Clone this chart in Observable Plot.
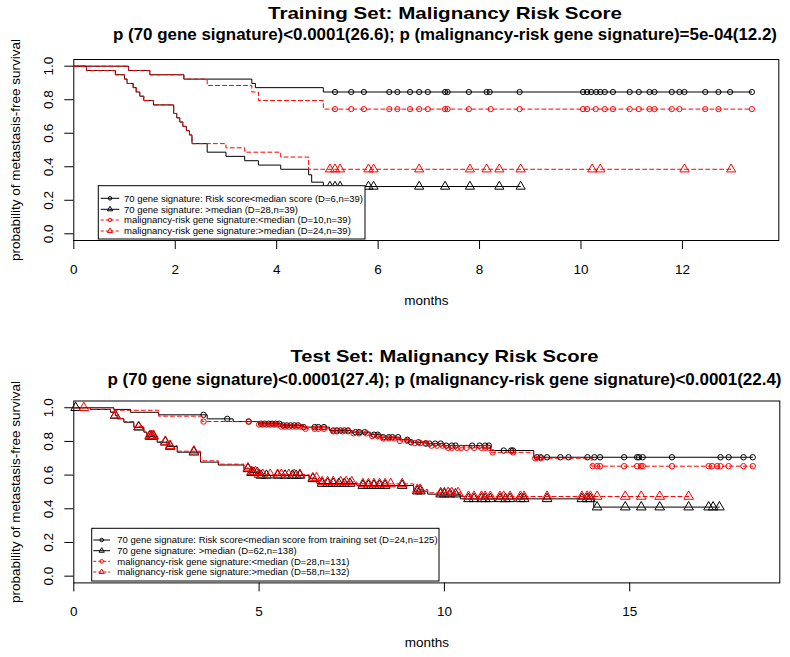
<!DOCTYPE html>
<html><head><meta charset="utf-8">
<script src="https://cdn.jsdelivr.net/npm/d3@7"></script>
<script src="https://cdn.jsdelivr.net/npm/@observablehq/plot@0.6"></script>
<style>
body{margin:0;background:#fff;overflow:hidden;}
#wrap{position:relative;width:790px;height:657px;}
#wrap svg{display:block;max-width:none;}
</style></head><body><div id="wrap"></div>
<script>
// ---------------- DATA ----------------
const yTicks = [0, 0.2, 0.4, 0.6, 0.8, 1.0];
const trainXTicks = [0, 2, 4, 6, 8, 10, 12];
const testXTicks = [0, 5, 10, 15];

const trainTitle = "Training Set: Malignancy Risk Score";
const trainSubtitle = "p (70 gene signature)<0.0001(26.6); p (malignancy-risk gene signature)=5e-04(12.2)";
const testTitle = "Test Set: Malignancy Risk Score";
const testSubtitle = "p (70 gene signature)<0.0001(27.4); p (malignancy-risk gene signature)<0.0001(22.4)";
const xLabel = "months";
const yLabel = "probability of metastasis-free survival";

const trainLegend = [
  "70 gene signature: Risk score<median score (D=6,n=39)",
  "70 gene signature: >median (D=28,n=39)",
  "malignancy-risk gene signature:<median (D=10,n=39)",
  "malignancy-risk gene signature:>median (D=24,n=39)"
];
const testLegend = [
  "70 gene signature: Risk score<median score from training set (D=24,n=125)",
  "70 gene signature: >median (D=62,n=138)",
  "malignancy-risk gene signature:<median (D=28,n=131)",
  "malignancy-risk gene signature:>median (D=58,n=132)"
];

// Training set: step points [months, survival] and censoring times (months)
const trainLowBlackSteps = [[0,1],[1.08,0.974],[1.50,0.949],[2.17,0.923],[3.51,0.897],[3.58,0.872],[4.92,0.846]];
const trainLowBlackCens = [5.15,5.47,5.72,6.22,6.38,6.63,6.81,6.98,7.32,7.37,7.79,8.14,8.2,8.79,10.04,10.12,10.2,10.3,10.38,10.47,10.63,10.96,11.14,11.35,11.45,11.79,11.94,12.04,12.45,12.71,12.94,13.37];
const trainHighBlackSteps = [[0,1],[0.25,0.974],[0.82,0.949],[1.0,0.923],[1.05,0.897],[1.17,0.872],[1.23,0.846],[1.30,0.821],[1.38,0.795],[1.57,0.769],[1.97,0.718],[2.03,0.692],[2.09,0.667],[2.15,0.641],[2.22,0.615],[2.28,0.590],[2.33,0.538],[2.63,0.487],[3.0,0.462],[3.37,0.436],[3.64,0.410],[4.08,0.385],[4.63,0.352],[4.69,0.308],[4.92,0.282]];
const trainHighBlackCens = [5.05,5.15,5.25,5.81,5.91,6.81,7.32,7.81,8.39,8.81];
const trainLowRedSteps = [[0,1],[1.08,0.974],[1.50,0.949],[2.17,0.923],[2.63,0.885],[3.51,0.846],[3.64,0.795],[4.92,0.744]];
const trainLowRedCens = [5.15,5.47,5.72,6.22,6.38,6.63,6.81,6.98,7.32,7.37,7.79,8.22,8.79,10.04,10.12,10.29,10.47,10.63,10.96,11.14,11.35,11.45,11.79,11.94,12.45,12.71,13.37];
const trainHighRedSteps = [[0,1],[0.25,0.974],[0.82,0.949],[1.0,0.923],[1.05,0.897],[1.17,0.872],[1.23,0.846],[1.30,0.821],[1.38,0.795],[1.57,0.769],[1.97,0.718],[2.03,0.692],[2.09,0.667],[2.15,0.641],[2.22,0.615],[2.28,0.590],[2.33,0.538],[3.0,0.513],[3.37,0.487],[4.08,0.458],[4.63,0.385]];
const trainHighRedCens = [5.05,5.15,5.25,5.81,5.91,6.81,7.81,8.14,8.39,8.81,10.22,10.38,12.04,12.96];

// Test set
const testLowBlackSteps = [[0,1],[1.08,0.99],[1.53,0.973],[2.29,0.958],[3.6,0.934],[4.3,0.918],[5.0,0.905],[5.6,0.895],[6.2,0.885],[6.9,0.865],[7.5,0.855],[8.0,0.84],[8.3,0.825],[8.8,0.81],[9.1,0.795],[9.5,0.787],[10.0,0.775],[11.24,0.746],[12.41,0.706]];
const testLowBlackCens = [3.5,4.14,4.72,5.05,5.15,5.25,5.35,5.45,5.55,5.65,5.75,5.85,5.95,6.05,6.2,6.5,6.6,6.75,7.0,7.1,7.2,7.3,7.4,7.6,7.7,7.85,8.1,8.2,8.35,8.5,8.6,8.75,9.0,9.1,9.3,9.5,9.6,9.75,9.9,10.05,10.2,10.3,10.75,10.95,11.1,11.2,11.6,11.8,11.85,12.5,12.6,12.77,13.13,13.35,13.86,14.05,14.2,14.85,15.2,15.25,15.35,16.14,17.45,17.67,18.07,18.32];
const testHighBlackSteps = [[0,1],[0.45,0.99],[0.99,0.973],[1.12,0.954],[1.17,0.934],[1.35,0.914],[1.62,0.884],[1.89,0.855],[1.97,0.83],[2.25,0.795],[2.52,0.77],[2.79,0.736],[3.42,0.677],[3.9,0.66],[4.59,0.637],[4.75,0.615],[5.0,0.598],[6.35,0.578],[6.56,0.55],[7.64,0.538],[9.17,0.505],[9.55,0.487],[10.43,0.459],[14.03,0.41]];
const testHighBlackCens = [0.05,1.12,1.75,2.05,2.1,2.15,2.47,2.6,3.24,4.7,4.8,4.85,4.95,5.05,5.2,5.5,5.7,5.9,6.0,6.1,6.45,6.7,6.85,7.0,7.15,7.3,7.45,7.8,7.95,8.1,8.25,8.4,8.86,9.27,9.35,9.9,10.0,10.15,10.3,10.65,10.8,11.0,11.1,11.24,11.5,11.65,11.77,12.05,12.15,12.77,13.71,13.85,13.94,14.12,14.88,15.31,15.81,16.59,17.13,17.25,17.42];
const testLowRedSteps = [[0,1],[1.08,0.985],[2.29,0.95],[3.46,0.918],[5.0,0.9],[5.6,0.888],[6.2,0.875],[6.9,0.86],[7.5,0.848],[8.0,0.832],[8.3,0.818],[8.8,0.803],[9.1,0.79],[9.6,0.775],[10.0,0.762],[11.24,0.735],[12.41,0.70],[13.98,0.653]];
const testLowRedCens = [3.5,4.72,5.0,5.1,5.2,5.3,5.4,5.5,5.6,5.7,5.8,5.9,6.0,6.1,6.25,6.5,6.6,6.75,7.0,7.1,7.25,7.4,7.55,7.7,7.9,8.05,8.2,8.35,8.5,8.65,8.8,9.0,9.2,9.35,9.5,9.65,9.8,9.95,10.1,10.2,10.35,10.45,10.6,10.8,11.0,11.1,11.2,11.3,11.85,12.45,12.6,14.0,14.12,14.2,14.85,15.2,15.3,15.35,16.14,17.13,17.22,17.36,17.45,17.67,18.07,18.32];
const testHighRedSteps = [[0,1],[0.45,0.99],[0.99,0.975],[1.12,0.956],[1.17,0.937],[1.35,0.917],[1.62,0.888],[1.89,0.86],[1.97,0.835],[2.25,0.80],[2.52,0.775],[2.79,0.742],[3.42,0.685],[3.9,0.665],[4.59,0.642],[4.75,0.62],[5.0,0.603],[6.35,0.583],[6.6,0.56],[7.64,0.548],[9.17,0.515],[9.55,0.495],[10.45,0.473]];
const testHighRedCens = [0.27,1.12,1.75,2.05,2.1,2.15,2.47,2.6,3.24,4.7,4.8,4.9,5.0,5.1,5.3,5.5,5.6,5.8,5.95,6.1,6.45,6.55,6.7,6.85,7.0,7.2,7.35,7.5,7.8,7.95,8.1,8.25,8.4,8.55,8.86,9.27,9.35,9.9,10.0,10.1,10.2,10.37,10.65,10.8,11.0,11.1,11.24,11.5,11.6,11.77,12.05,12.15,12.77,13.71,13.85,13.94,14.12,14.88,15.31,15.81,16.59];

// ---------------- HELPERS ----------------
const FONT = '"Liberation Sans", Arial, Helvetica, sans-serif';
const TITLE_FONT = '"Liberation Sans Narrow", "Arial Narrow", "Liberation Sans", Arial, sans-serif';
const BLACK = "#000000", RED = "#ff0000";

function survAt(steps, t) {
  let s = steps[0][1];
  for (const [tt, v] of steps) { if (tt <= t) s = v; else break; }
  return s;
}
function lineData(steps, cens) {
  const last = steps[steps.length - 1];
  const end = Math.max(d3.max(cens), last[0]);
  return [...steps.map(([t, s]) => ({t, s})), {t: end, s: last[1]}];
}
function censData(steps, cens) { return cens.map(t => ({t, s: survAt(steps, t)})); }

function panel(cfg) {
  const marks = [Plot.frame({stroke: BLACK, strokeWidth: 1})];
  for (const s of cfg.series) {
    marks.push(Plot.line(lineData(s.steps, s.cens), {
      x: "t", y: "s", curve: "step-after", stroke: s.color, strokeWidth: 1,
      ...(s.dash ? {strokeDasharray: "4,3"} : {})
    }));
    marks.push(Plot.dot(censData(s.steps, s.cens), {
      x: "t", y: "s", symbol: s.symbol, r: s.symbol === "circle" ? cfg.rc : cfg.rt,
      stroke: s.color, fill: "none", strokeWidth: 1
    }));
  }
  marks.push(
    Plot.axisX({ticks: cfg.xTicks, tickSize: 9, tickPadding: 15, fontSize: 13.5, label: null, tickFormat: d => String(d), stroke: BLACK}),
    Plot.axisY({ticks: yTicks, tickSize: 9, tickFormat: () => "", label: null, stroke: BLACK}),
    Plot.text(yTicks, {y: d => d, frameAnchor: "left", dx: -25.3, rotate: -90, text: d => d.toFixed(1), textAnchor: "middle", lineAnchor: "middle", fontSize: 13.5, fill: BLACK}),
    Plot.text([yLabel], {frameAnchor: "left", dx: -57.8, rotate: -90, textAnchor: "middle", lineAnchor: "middle", fontSize: 13.5, fill: BLACK}),
    Plot.text([xLabel], {frameAnchor: "bottom", dy: 60, textAnchor: "middle", lineAnchor: "middle", fontSize: 13.5, fill: BLACK}),
    Plot.text([cfg.title], {frameAnchor: "top", dx: cfg.titleDx, dy: cfg.titleDy[0], lineAnchor: "middle", fontSize: 17, fontWeight: "bold", fontFamily: TITLE_FONT, fill: BLACK}),
    Plot.text([cfg.subtitle], {frameAnchor: "top", dx: cfg.titleDx, dy: cfg.titleDy[1], lineAnchor: "middle", fontSize: 16.5, fontWeight: "bold", fontFamily: TITLE_FONT, fill: BLACK})
  );
  const svg = Plot.plot({
    width: 790, height: cfg.height,
    marginTop: cfg.mt, marginBottom: cfg.mb, marginLeft: 73.3, marginRight: cfg.mr,
    x: {domain: [0, cfg.xMax]},
    y: {domain: [-0.04, 1.04]},
    style: {fontFamily: FONT, fontSize: "13.5px", color: BLACK, background: "white", overflow: "visible"},
    marks
  });
  const wanted = new Map([[cfg.title, cfg.titleLens[0]], [cfg.subtitle, cfg.titleLens[1]]]);
  d3.select(svg).selectAll("text").each(function() {
    const len = wanted.get(this.textContent);
    if (len) {
      this.setAttribute("textLength", len);
      this.setAttribute("lengthAdjust", "spacingAndGlyphs");
    }
  });
  // legend box (R-style, inside the plot area)
  const L = cfg.legend;
  const g = d3.select(svg).append("g").attr("font-family", FONT).attr("font-size", 9.5).attr("text-anchor", "start");
  g.append("rect").attr("x", L.x).attr("y", L.y).attr("width", L.w).attr("height", L.h)
    .attr("fill", "white").attr("stroke", BLACK).attr("stroke-width", 1);
  cfg.series.forEach((s, i) => {
    const y = L.rows[i];
    g.append("line").attr("x1", L.sx1).attr("x2", L.sx2).attr("y1", y).attr("y2", y)
      .attr("stroke", s.color).attr("stroke-width", 1).attr("stroke-dasharray", s.dash ? "3,2" : null);
    g.append("path").attr("d", d3.symbol(s.symbol === "circle" ? d3.symbolCircle : d3.symbolTriangle, s.symbol === "circle" ? 10 : 12)())
      .attr("transform", `translate(${L.sc},${y})`).attr("fill", "none").attr("stroke", s.color);
    g.append("text").attr("x", L.tx).attr("y", y).attr("dy", "0.35em").attr("fill", BLACK)
      .attr("text-anchor", "start").text(cfg.legendLabels[i]);
  });
  return svg;
}

const wrap = document.getElementById("wrap");

wrap.appendChild(panel({
  height: 318, mt: 59, mb: 78, mr: 11.7, xMax: 13.9, xTicks: trainXTicks, rc: 2.6, rt: 3.4,
  title: trainTitle, subtitle: trainSubtitle, titleDx: 18.7, titleDy: [-46, -25], titleLens: [354, 664],
  series: [
    {steps: trainLowBlackSteps, cens: trainLowBlackCens, color: BLACK, dash: false, symbol: "circle"},
    {steps: trainHighBlackSteps, cens: trainHighBlackCens, color: BLACK, dash: false, symbol: "triangle"},
    {steps: trainLowRedSteps, cens: trainLowRedCens, color: RED, dash: true, symbol: "circle"},
    {steps: trainHighRedSteps, cens: trainHighRedCens, color: RED, dash: true, symbol: "triangle"}
  ],
  legendLabels: trainLegend,
  legend: {x: 98.3, y: 185.7, w: 266.7, h: 53.3, rows: [198.3, 209.3, 220, 231], sx1: 100.7, sx2: 119.3, sc: 110, tx: 124}
}));

wrap.appendChild(panel({
  height: 339, mt: 82.5, mb: 74.6, mr: 10.7, xMax: 19.05, xTicks: testXTicks, rc: 2.7, rt: 3.6,
  title: testTitle, subtitle: testSubtitle, titleDx: 17.7, titleDy: [-44.5, -21.5], titleLens: [308, 674],
  series: [
    {steps: testLowBlackSteps, cens: testLowBlackCens, color: BLACK, dash: false, symbol: "circle"},
    {steps: testHighBlackSteps, cens: testHighBlackCens, color: BLACK, dash: false, symbol: "triangle"},
    {steps: testLowRedSteps, cens: testLowRedCens, color: RED, dash: true, symbol: "circle"},
    {steps: testHighRedSteps, cens: testHighRedCens, color: RED, dash: true, symbol: "triangle"}
  ],
  legendLabels: testLegend,
  legend: {x: 91.7, y: 210.3, w: 347.3, h: 52.7, rows: [222, 232.7, 243.3, 254], sx1: 93.3, sx2: 110, sc: 101.7, tx: 117.3}
}));
</script>
</body></html>
